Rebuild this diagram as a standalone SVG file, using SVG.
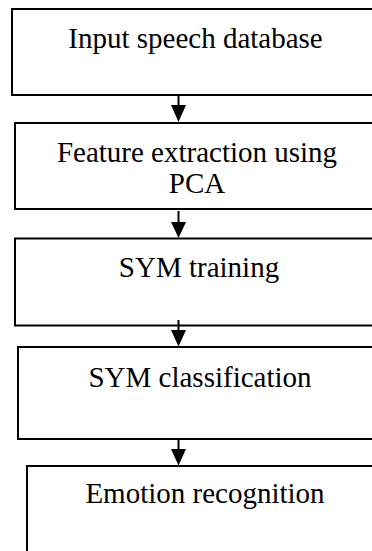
<svg xmlns="http://www.w3.org/2000/svg" width="372" height="551" viewBox="0 0 372 551">
<defs>
<style>
.box{fill:#fff;stroke:#000;stroke-width:2}
.t{font-family:'Liberation Serif',Tinos,'Times New Roman',Times,'DejaVu Serif',serif;font-size:29px;fill:#000;text-anchor:middle}
.ln{stroke:#000;stroke-width:2;fill:none}
.ah{fill:#000}
</style>
</defs>
<rect width="372" height="551" fill="#fff"/>
<g id="n1"><rect class="box" x="12" y="9" width="380" height="86"/><text class="t" x="195.5" y="48">Input speech database</text></g>
<g id="n2"><rect class="box" x="15" y="123" width="380" height="86"/><text class="t" x="197" y="161.5">Feature extraction using</text><text class="t" x="197" y="193">PCA</text></g>
<g id="n3"><rect class="box" x="15" y="238.5" width="380" height="87"/><text class="t" x="199" y="276.5">SYM training</text></g>
<g id="n4"><rect class="box" x="18" y="347" width="380" height="92"/><text class="t" x="200" y="386.5">SYM classification</text></g>
<g id="n5"><rect class="box" x="27" y="466" width="380" height="100"/><text class="t" x="205" y="503">Emotion recognition</text></g>
<g id="connectors">
<line class="ln" x1="178.5" y1="95" x2="178.5" y2="108"/><polygon class="ah" points="171,105 186,105 178.5,122"/>
<line class="ln" x1="178.5" y1="211" x2="178.5" y2="225"/><polygon class="ah" points="171,222 186,222 178.5,238"/>
<line class="ln" x1="178.5" y1="320" x2="178.5" y2="333"/><polygon class="ah" points="171,330 186,330 178.5,346.5"/>
<line class="ln" x1="178.5" y1="439" x2="178.5" y2="452"/><polygon class="ah" points="171,449 186,449 178.5,465.5"/>
</g>
</svg>
